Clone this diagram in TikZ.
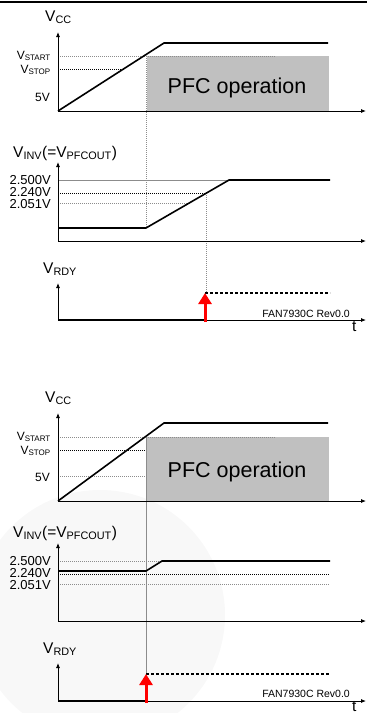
\documentclass[tikz,border=0pt]{standalone}
\usepackage{fontspec}
\setmainfont{Liberation Sans}
\usetikzlibrary{arrows.meta}

\definecolor{boxgray}{HTML}{C0C0C0}
\definecolor{faint}{HTML}{F8F8F8}

\tikzset{
    axis/.style={line width=0.8pt, -{Latex[length=5pt,width=4pt]}},
    sig/.style={line width=1.6pt},
    guide/.style={line width=0.6pt, dash pattern=on 1pt off 1pt},
    guidegray/.style={guide, black!45},
    rdy/.style={line width=1.2pt, dash pattern=on 3pt off 2pt},
    redarrow/.style={red, line width=3pt, -{Triangle[length=11pt,width=13pt]}},
    txt/.style={inner sep=0pt},
    big/.style={txt, font=\fontsize{15.5}{18}\selectfont},
    tick/.style={txt, font=\fontsize{12}{14}\selectfont},
    num/.style={txt, font=\fontsize{13}{15}\selectfont},
    pfc/.style={txt, font=\fontsize{21.5}{24}\selectfont},
    note/.style={txt, font=\fontsize{10.5}{12}\selectfont}
}

\begin{document}
\begin{tikzpicture}[x=1pt,y=-1pt]
\useasboundingbox (0,0) rectangle (367,713);
\fill[faint] (100,615) circle (125);
\coordinate (TL) at (0,2);
\coordinate (TR) at (367,2);
\draw[line width=2pt] (TL)--(TR);

% ---------------- upper case: Vcc
\coordinate (A0) at (58,111);
\coordinate (Ay) at (58,32);
\coordinate (Ax) at (366,111);
\coordinate (Ar) at (164,43);
\coordinate (Ae) at (328,43);
\fill[boxgray] (147,56) rectangle (329,111);
\coordinate (AstartL) at (58,56);
\coordinate (AstartR) at (275,56);
\coordinate (AstopL) at (58,69);
\coordinate (AstopR) at (124,69);
\coordinate (Avt) at (146,56);
\coordinate (Avb) at (146,228);
\draw[guidegray] (AstartL)--(AstartR);
\draw[guide] (AstopL)--(AstopR);
\draw[guidegray] (Avt)--(Avb);
\draw[axis] (A0)--(Ay);
\draw[axis] (A0)--(Ax);
\draw[sig] (A0)--(Ar)--(Ae);
\node[big, anchor=base west] (avcc) at (45,21) {V\textsubscript{CC}};
\node[tick, anchor=east] (astart) at (51,56) {V\textsubscript{START}};
\node[tick, anchor=east] (astop) at (51,70) {V\textsubscript{STOP}};
\node[tick, anchor=east] (a5v) at (50,97) {5V};
\node[pfc, anchor=base] (apfc) at (237,93) {PFC operation};

% ---------------- upper case: Vinv
\coordinate (B0) at (58,241);
\coordinate (By) at (58,162);
\coordinate (Bx) at (366,241);
\coordinate (Bl) at (146,228);
\coordinate (Br) at (229,180);
\coordinate (Be) at (330,180);
\coordinate (B25L) at (58,180);
\coordinate (B224L) at (58,193);
\coordinate (B224R) at (206,193);
\coordinate (B205L) at (58,203);
\coordinate (B205R) at (189,203);
\coordinate (Bvb) at (206,293);
\draw[line width=0.6pt, black!45] (B25L)--(Br);
\draw[guide] (B224L)--(B224R);
\draw[guidegray] (B205L)--(B205R);
\draw[guidegray] (B224R)--(Bvb);
\draw[axis] (B0)--(By);
\draw[axis] (B0)--(Bx);
\draw[sig] (58,228)--(Bl)--(Br)--(Be);
\node[big, anchor=base west] (binv) at (13,157) {V\textsubscript{INV}(=V\textsubscript{PFCOUT})};
\node[num, anchor=east] (b25) at (51,180) {2.500V};
\node[num, anchor=east] (b224) at (51,192.5) {2.240V};
\node[num, anchor=east] (b205) at (51,204.5) {2.051V};

% ---------------- upper case: Vrdy
\coordinate (C0) at (58,320);
\coordinate (Cy) at (58,283);
\coordinate (Cx) at (366,320);
\coordinate (Cs) at (205,320);
\coordinate (Ch) at (205,293);
\coordinate (Ce) at (330,293);
\draw[axis] (C0)--(Cy);
\draw[axis] (C0)--(Cx);
\draw[sig] (C0)--(Cs);
\draw[rdy] (Ch)--(Ce);
\draw[redarrow] (205,322)--(Ch);
\node[big, anchor=base west] (crdy) at (43,273) {V\textsubscript{RDY}};
\node[note, anchor=base east] (crev) at (350,317) {FAN7930C Rev0.0};
\node[big, anchor=base west] (ct) at (352,331) {t};

% ---------------- lower case: Vcc
\coordinate (D0) at (58,501);
\coordinate (Dy) at (58,413);
\coordinate (Dx) at (366,501);
\coordinate (Dr) at (164,423);
\coordinate (De) at (328,423);
\fill[boxgray] (147,437) rectangle (329,501);
\coordinate (DstartL) at (58,437);
\coordinate (DstartR) at (275,437);
\coordinate (DstopL) at (58,450);
\coordinate (DstopR) at (146,450);
\coordinate (D5L) at (58,476);
\coordinate (D5R) at (146,476);
\coordinate (Dvt) at (146,437);
\coordinate (Dvb) at (146,673);
\draw[guidegray] (DstartL)--(DstartR);
\draw[guide] (DstopL)--(DstopR);
\draw[guidegray] (D5L)--(D5R);
\draw[line width=0.6pt, black!45] (Dvt)--(Dvb);
\draw[axis] (D0)--(Dy);
\draw[axis] (D0)--(Dx);
\draw[sig] (D0)--(Dr)--(De);
\node[big, anchor=base west] (dvcc) at (45,402) {V\textsubscript{CC}};
\node[tick, anchor=east] (dstart) at (51,437) {V\textsubscript{START}};
\node[tick, anchor=east] (dstop) at (51,451) {V\textsubscript{STOP}};
\node[tick, anchor=east] (d5v) at (50,477) {5V};
\node[pfc, anchor=base] (dpfc) at (237,477) {PFC operation};

% ---------------- lower case: Vinv
\coordinate (E0) at (58,621);
\coordinate (Ey) at (58,543);
\coordinate (Ex) at (366,621);
\coordinate (El) at (146,571);
\coordinate (Er) at (162,561);
\coordinate (Ee) at (330,561);
\coordinate (E25L) at (58,561);
\coordinate (E224L) at (58,574);
\coordinate (E224R) at (330,574);
\coordinate (E205L) at (58,584);
\coordinate (E205R) at (330,584);
\draw[guidegray] (E25L)--(Er);
\draw[guide] (E224L)--(E224R);
\draw[guidegray] (E205L)--(E205R);
\draw[axis] (E0)--(Ey);
\draw[axis] (E0)--(Ex);
\draw[sig] (58,571)--(El)--(Er)--(Ee);
\node[big, anchor=base west] (einv) at (13,537) {V\textsubscript{INV}(=V\textsubscript{PFCOUT})};
\node[num, anchor=east] (e25) at (51,561) {2.500V};
\node[num, anchor=east] (e224) at (51,573.5) {2.240V};
\node[num, anchor=east] (e205) at (51,585.5) {2.051V};

% ---------------- lower case: Vrdy
\coordinate (F0) at (58,701);
\coordinate (Fy) at (58,663);
\coordinate (Fx) at (366,701);
\coordinate (Fs) at (146,701);
\coordinate (Fh) at (146,674);
\coordinate (Fe) at (330,674);
\draw[axis] (F0)--(Fy);
\draw[axis] (F0)--(Fx);
\draw[sig] (F0)--(Fs);
\draw[rdy] (Fh)--(Fe);
\draw[redarrow] (146,703)--(Fh);
\node[big, anchor=base west] (frdy) at (43,653) {V\textsubscript{RDY}};
\node[note, anchor=base east] (frev) at (350,697) {FAN7930C Rev0.0};
\node[big, anchor=base west] (ft) at (352,711) {t};
\end{tikzpicture}
\end{document}
